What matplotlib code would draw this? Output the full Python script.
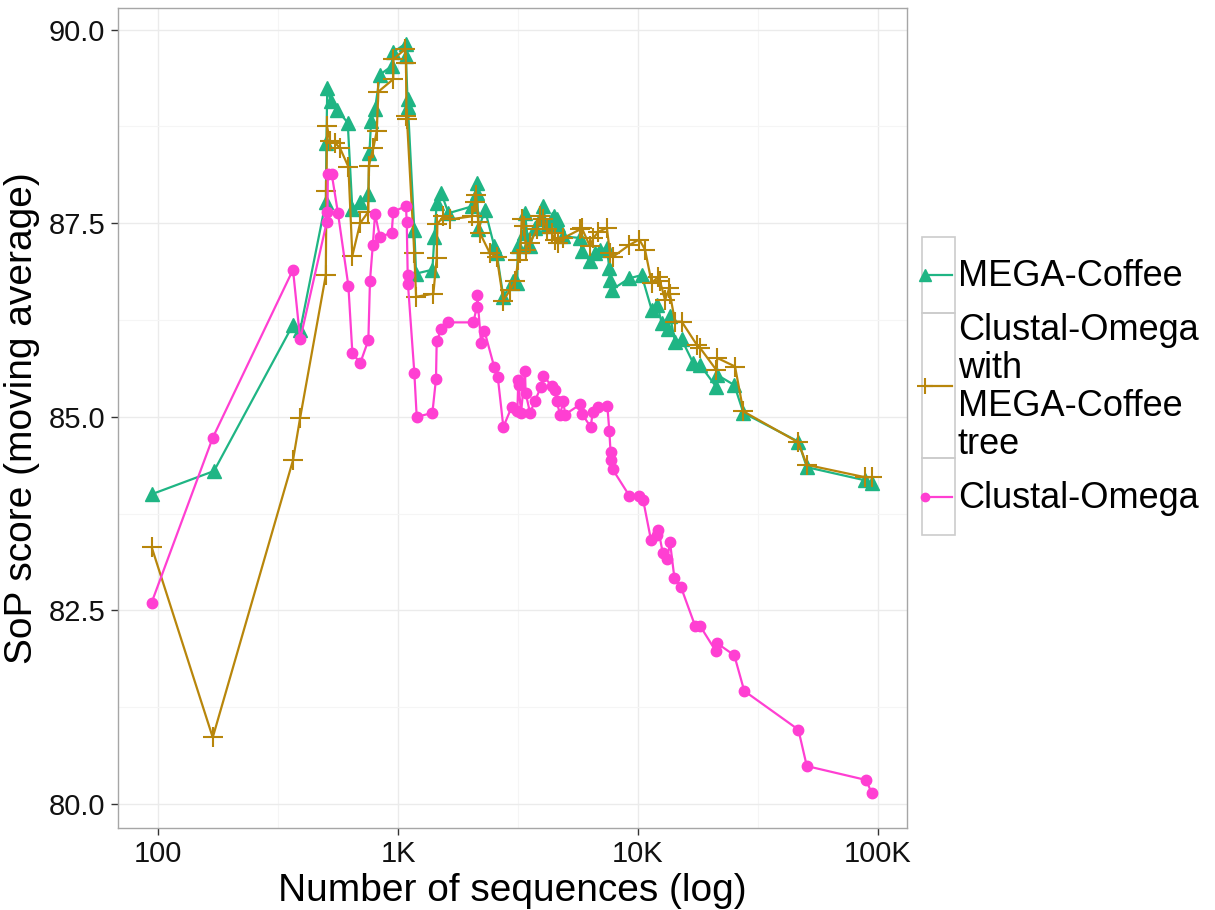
import matplotlib
matplotlib.use("Agg")
import matplotlib.pyplot as plt
from matplotlib.lines import Line2D
from matplotlib.patches import Rectangle
from matplotlib.ticker import FixedLocator

plt.rcParams["font.family"] = ["Liberation Sans", "DejaVu Sans"]

# --- data (number of sequences, SoP moving average) ---
mega_n = [94, 171, 365, 391, 500, 503, 507, 524, 558, 617, 645, 695, 752, 760, 772,
          802, 841, 941, 955, 1076, 1078, 1095, 1100, 1169, 1189, 1390, 1417, 1449,
          1514, 1622, 2042, 2128, 2138, 2161, 2304, 2518, 2577, 2746, 3005, 3141,
          3150, 3350, 3381, 3491, 3548, 3724, 3907, 4008, 4168, 4368, 4480, 4581,
          4655, 4886, 5733, 5827, 6310, 6620, 6950, 7413, 7590, 7643, 7762, 9204,
          10350, 11400, 12020, 12550, 13370, 13590, 14260, 15200, 16940, 18130,
          21130, 21400, 25180, 27480, 46560, 50470, 88310, 94150]
mega_v = [84.00, 84.30, 86.19, 86.12, 87.78, 88.54, 89.25, 89.08, 88.96, 88.80, 87.68,
          87.78, 87.88, 88.41, 88.82, 88.98, 89.42, 89.53, 89.71, 89.82, 89.66, 89.10,
          89.00, 87.41, 86.85, 86.90, 87.32, 87.76, 87.89, 87.63, 87.72, 88.02, 87.89,
          87.42, 87.67, 87.20, 87.11, 86.55, 86.75, 86.73, 87.20, 87.37, 87.63, 87.22,
          87.20, 87.44, 87.55, 87.72, 87.46, 87.55, 87.59, 87.55, 87.48, 87.33, 87.31,
          87.14, 87.01, 87.11, 87.16, 87.18, 86.92, 86.77, 86.64, 86.79, 86.83, 86.38,
          86.45, 86.21, 86.14, 86.30, 85.97, 86.00, 85.70, 85.67, 85.39, 85.54, 85.41,
          85.05, 84.68, 84.35, 84.18, 84.14]

tree_n = [94, 169, 365, 391, 500, 503, 506, 521, 546, 573, 621, 645, 695, 752, 755,
          789, 815, 828, 955, 957, 1072, 1079, 1084, 1089, 1169, 1189, 1403, 1449,
          1458, 1545, 1647, 2029, 2094, 2113, 2161, 2196, 2416, 2577, 2746, 2929,
          3073, 3171, 3223, 3275, 3350, 3414, 3548, 3783, 3907, 4027, 4168, 4368,
          4508, 4655, 4886, 5733, 5827, 6310, 6513, 6839, 7413, 7643, 7888, 9204,
          10120, 10690, 11400, 12150, 12350, 12960, 13490, 13590, 14260, 15200,
          17570, 18130, 21130, 21400, 25350, 27480, 46560, 50470, 88310, 94150]
tree_v = [83.32, 80.86, 84.44, 84.99, 86.83, 87.92, 88.75, 88.56, 88.54, 88.47, 88.23,
          87.08, 87.50, 87.65, 88.24, 88.47, 88.69, 89.20, 89.36, 89.62, 89.75, 89.57,
          88.89, 88.85, 87.11, 86.55, 86.59, 87.05, 87.49, 87.59, 87.55, 87.59, 87.78,
          87.87, 87.52, 87.37, 87.11, 87.07, 86.50, 86.64, 86.75, 87.03, 87.11, 87.55,
          87.46, 87.16, 87.24, 87.42, 87.59, 87.55, 87.42, 87.37, 87.29, 87.24, 87.31,
          87.42, 87.44, 87.20, 87.31, 87.39, 87.44, 87.11, 87.07, 87.22, 87.29, 87.16,
          86.73, 86.81, 86.75, 86.51, 86.66, 86.58, 86.23, 86.23, 85.93, 85.89, 85.61,
          85.76, 85.65, 85.07, 84.67, 84.38, 84.22, 84.22]

clustal_n = [94, 169, 365, 391, 505, 508, 510, 529, 562, 621, 645, 695, 752, 764, 785,
             802, 841, 941, 955, 1079, 1087, 1097, 1100, 1169, 1196, 1390, 1439, 1449,
             1517, 1622, 2061, 2128, 2138, 2216, 2290, 2518, 2602, 2746, 2977, 3141,
             3171, 3180, 3254, 3381, 3400, 3548, 3724, 3943, 4027, 4368, 4508, 4581,
             4731, 4886, 4966, 5733, 5827, 6350, 6472, 6839, 7450, 7590, 7680, 7720,
             7845, 9204, 10120, 10510, 11320, 11970, 12150, 12680, 13240, 13590,
             14170, 15100, 17290, 18130, 21130, 21260, 25180, 27700, 46560, 50470,
             89130, 94150]
clustal_v = [82.60, 84.73, 86.90, 86.00, 87.52, 87.64, 88.14, 88.14, 87.63, 86.69,
             85.83, 85.69, 85.99, 86.76, 87.22, 87.62, 87.32, 87.38, 87.65, 87.72,
             87.51, 86.83, 86.71, 85.57, 85.00, 85.05, 85.49, 85.98, 86.14, 86.22,
             86.22, 86.42, 86.57, 85.96, 86.11, 85.64, 85.52, 84.87, 85.13, 85.07,
             85.48, 85.41, 85.05, 85.59, 85.31, 85.05, 85.21, 85.39, 85.53, 85.40,
             85.35, 85.20, 85.03, 85.20, 85.03, 85.16, 85.04, 84.87, 85.06, 85.13,
             85.14, 84.82, 84.55, 84.44, 84.32, 83.98, 83.98, 83.92, 83.41, 83.48,
             83.54, 83.24, 83.17, 83.38, 82.92, 82.80, 82.30, 82.30, 81.97, 82.08,
             81.92, 81.46, 80.96, 80.49, 80.31, 80.14]

x_ticks = [100, 1000, 10000, 100000]
x_ticklabels = ["100", "1K", "10K", "100K"]
x_minor = [316.2, 3162, 31623]
y_ticks = [80.0, 82.5, 85.0, 87.5, 90.0]
y_minor = [81.25, 83.75, 86.25, 88.75]

GREEN = "#1FB584"
GOLD = "#B8860B"
PINK = "#FF3FD2"

series = [
    ("MEGA-Coffee", mega_n, mega_v, GREEN, "^", dict(markersize=10)),
    ("Clustal-Omega\nwith\nMEGA-Coffee\ntree", tree_n, tree_v, GOLD, "+",
     dict(markersize=15, markeredgewidth=1.5)),
    ("Clustal-Omega", clustal_n, clustal_v, PINK, "o", dict(markersize=7.5)),
]

W, H = 1215, 910
fig = plt.figure(figsize=(W / 100, H / 100), dpi=100)
ax = fig.add_axes([118 / W, 1 - 828 / H, (907 - 118) / W, (828 - 8) / H])

for label, n, v, color, marker, mkw in series:
    ax.plot(n, v, color=color, lw=1.6, marker=marker, markeredgecolor=color,
            markerfacecolor=color, zorder=3, **mkw)

ax.set_xscale("log")
ax.set_xlim(68.1, 132000)
ax.set_ylim(79.69, 90.28)
ax.xaxis.set_major_locator(FixedLocator(x_ticks))
ax.xaxis.set_minor_locator(FixedLocator(x_minor))
ax.set_xticklabels(x_ticklabels)
ax.yaxis.set_major_locator(FixedLocator(y_ticks))
ax.yaxis.set_minor_locator(FixedLocator(y_minor))
ax.set_yticklabels([f"{t:.1f}" for t in y_ticks])

ax.grid(True, which="major", color="#EBEBEB", lw=1.0, zorder=0)
ax.grid(True, which="minor", color="#F5F5F5", lw=0.8, zorder=0)
ax.set_axisbelow(True)
ax.tick_params(which="minor", length=0)
ax.tick_params(which="major", length=5, width=1, color="#333333",
               labelsize=21, labelcolor="#111111", pad=4)
for s in ax.spines.values():
    s.set_color("#A6A6A6")
    s.set_linewidth(1.0)

ax.set_xlabel("Number of sequences (log)", fontsize=28, labelpad=3)
ax.set_ylabel("SoP score (moving average)", fontsize=28, labelpad=6)

# legend drawn in figure pixel coordinates
lg = fig.add_axes([0, 0, 1, 1], zorder=5)
lg.set_xlim(0, W)
lg.set_ylim(H, 0)
lg.axis("off")
rows = [(237, 313), (313, 458), (458, 535)]
for (label, n, v, color, marker, mkw), (y0, y1) in zip(series, rows):
    lg.add_patch(Rectangle((922, y0), 33, y1 - y0, fill=False, ec="#CCCCCC", lw=1.2))
    yc = (y0 + y1) / 2
    key_kw = {k: (val * 0.8 if k == "markersize" else val) for k, val in mkw.items()}
    lg.add_line(Line2D([925, 952], [yc, yc], color=color, lw=1.6, marker=marker,
                       markeredgecolor=color, markerfacecolor=color,
                       markevery=[0], **key_kw))
    lg.text(958, yc + 2, label, fontsize=26, va="center", ha="left",
            linespacing=1.1)

fig.savefig("out.png", dpi=100)
